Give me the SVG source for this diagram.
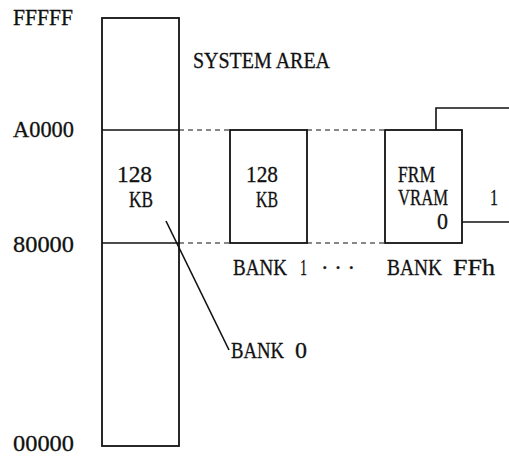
<svg xmlns="http://www.w3.org/2000/svg" width="509" height="456" viewBox="0 0 509 456">
<style>
text{font-family:"Liberation Serif","Times New Roman",serif;font-size:23px;fill:#111;stroke:#111;stroke-width:0.3}
.box{fill:none;stroke:#111;stroke-width:1.8}
.ln{fill:none;stroke:#111;stroke-width:1.6}
.dash{fill:none;stroke:#111;stroke-width:1;stroke-dasharray:5 4}
</style>
<rect width="509" height="456" fill="#fff"/>
<g id="addresses">
<text x="13" y="25" textLength="60" lengthAdjust="spacingAndGlyphs">FFFFF</text>
<text x="13" y="137" textLength="61" lengthAdjust="spacingAndGlyphs">A0000</text>
<text x="13" y="252" textLength="61" lengthAdjust="spacingAndGlyphs">80000</text>
<text x="13" y="451" textLength="61" lengthAdjust="spacingAndGlyphs">00000</text>
</g>
<g id="bank0">
<rect class="box" x="102" y="18" width="77" height="428"/>
<line class="ln" x1="102" y1="130" x2="179" y2="130"/>
<line class="ln" x1="102" y1="243" x2="179" y2="243"/>
<text x="117" y="182" textLength="35" lengthAdjust="spacingAndGlyphs">128</text>
<text x="129" y="207" textLength="24" lengthAdjust="spacingAndGlyphs">KB</text>
<text x="193" y="68" textLength="137" lengthAdjust="spacingAndGlyphs">SYSTEM AREA</text>
<text x="231" y="358" textLength="53" lengthAdjust="spacingAndGlyphs">BANK</text>
<text x="295" y="358" textLength="12" lengthAdjust="spacingAndGlyphs">0</text>
</g>
<g id="bank1">
<rect class="box" x="230" y="130" width="77" height="113"/>
<text x="246" y="182" textLength="32" lengthAdjust="spacingAndGlyphs">128</text>
<text x="256" y="207" textLength="22" lengthAdjust="spacingAndGlyphs">KB</text>
<text x="233" y="275" textLength="54" lengthAdjust="spacingAndGlyphs">BANK</text>
<text x="300" y="275" textLength="7" lengthAdjust="spacingAndGlyphs">1</text>
<text x="321" y="275" textLength="34" lengthAdjust="spacingAndGlyphs">· · ·</text>
</g>
<g id="bankFF">
<rect class="box" x="385" y="130" width="77" height="113"/>
<text x="398" y="182" textLength="37" lengthAdjust="spacingAndGlyphs">FRM</text>
<text x="398" y="205" textLength="50" lengthAdjust="spacingAndGlyphs">VRAM</text>
<text x="437" y="229" textLength="11" lengthAdjust="spacingAndGlyphs">0</text>
<text x="387" y="275" textLength="55" lengthAdjust="spacingAndGlyphs">BANK</text>
<text x="453" y="275" textLength="42" lengthAdjust="spacingAndGlyphs">FFh</text>
</g>
<g id="vram1">
<polyline class="ln" points="436,130 436,108 509,108"/>
<line class="ln" x1="462" y1="222" x2="509" y2="222"/>
<text x="490" y="205" textLength="8" lengthAdjust="spacingAndGlyphs">1</text>
</g>
<g id="connectors">
<line class="dash" x1="179" y1="130" x2="230" y2="130"/>
<line class="dash" x1="179" y1="243" x2="230" y2="243"/>
<line class="dash" x1="307" y1="130" x2="385" y2="130"/>
<line class="dash" x1="307" y1="243" x2="385" y2="243"/>
<line class="ln" x1="166" y1="221" x2="229" y2="350" stroke-width="1.3"/>
</g>
</svg>
